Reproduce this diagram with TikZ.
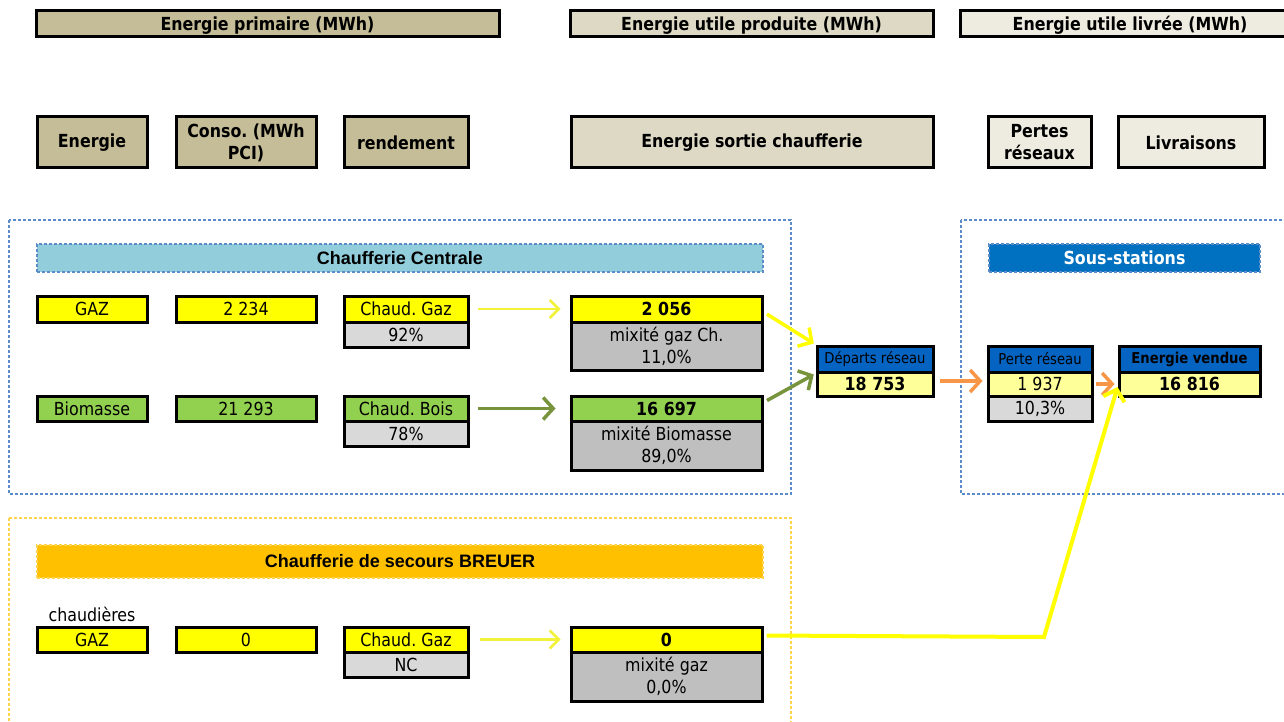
\documentclass[tikz,border=0pt]{standalone}
\usepackage{fontspec}
\setmainfont{DejaVu Sans}[FakeStretch=0.88]
\newfontfamily\arialfont{Liberation Sans}
\usepackage{tikz}
\usetikzlibrary{positioning,arrows.meta}
\definecolor{tanA}{HTML}{C4BD97}
\definecolor{tanB}{HTML}{DDD9C4}
\definecolor{tanC}{HTML}{EEECE1}
\definecolor{gaz}{HTML}{FFFF00}
\definecolor{bio}{HTML}{92D050}
\definecolor{greyL}{HTML}{D9D9D9}
\definecolor{greyD}{HTML}{BFBFBF}
\definecolor{paleY}{HTML}{FFFF99}
\definecolor{lightY}{HTML}{F2F23A}
\definecolor{blueH}{HTML}{0563C1}
\definecolor{blueS}{HTML}{0070C0}
\definecolor{aqua}{HTML}{92CDDC}
\definecolor{amber}{HTML}{FFC000}
\definecolor{olive}{HTML}{77933C}
\definecolor{orangeA}{HTML}{F79646}
\definecolor{dotblue}{HTML}{5B8BC9}
\newcommand{\bigtxt}{\fontsize{18}{22}\selectfont}
\newcommand{\smalltxt}{\fontsize{15}{18}\selectfont}
\frenchspacing

\begin{document}
\begin{tikzpicture}[x=1pt, y=-1pt,
  every node/.style={font=\bigtxt, inner sep=0pt, align=center},
  cell/.style={draw=black, line width=3pt},
  head/.style={cell, font=\bigtxt\bfseries},
  bar/.style={draw=dotblue, line width=1.5pt, dash pattern=on 3pt off 2pt, font=\arialfont\bigtxt\bfseries, minimum height=28pt},
  frame/.style={draw=dotblue, line width=2pt, dash pattern=on 3pt off 2pt},
  flow/.style={line width=3.5pt, -{Straight Barb[length=10pt,width=22pt]}},
  thin flow/.style={draw=lightY, line width=2.5pt, -{Straight Barb[length=9pt,width=18pt]}}
]
\useasboundingbox (0,0) rectangle (1284,722);

% frames
\draw[frame] (9,220) rectangle (791,494);
\draw[frame] (961,220) rectangle (1300,494);
\draw[frame, draw=amber!70, line width=1.5pt] (9,518) rectangle (791,740);

% column headers
\node[head, fill=tanA, minimum width=463pt, minimum height=26pt, text height=17pt, text depth=3pt] (hPrim) at (267.5,24) {Energie primaire (MWh)};
\node[head, fill=tanB, minimum width=363pt, minimum height=26pt, text height=17pt, text depth=3pt] (hProd) at (751.5,24) {Energie utile produite (MWh)};
\node[head, fill=tanC, minimum width=340pt, minimum height=26pt, text height=17pt, text depth=3pt] (hLivr) at (1130,24) {Energie utile livr\'ee (MWh)};

\node[head, fill=tanA, minimum width=110pt, minimum height=51pt] (cEn) at (92,142.5) {Energie};
\node[head, fill=tanA, minimum width=140pt, minimum height=51pt] (cConso) at (246,142.5) {Conso. (MWh\\PCI)};
\node[head, fill=tanA, minimum width=124pt, minimum height=51pt] (cRend) at (406,142.5) {rendement};
\node[head, fill=tanB, minimum width=362pt, minimum height=51pt] (cSortie) at (752,142.5) {Energie sortie chaufferie};
\node[head, fill=tanC, minimum width=103pt, minimum height=51pt] (cPertes) at (1039.5,142.5) {Pertes\\r\'eseaux};
\node[head, fill=tanC, minimum width=146pt, minimum height=51pt] (cLivr) at (1191,142.5) {Livraisons};

% Chaufferie Centrale
\node[bar, fill=aqua, minimum width=726pt] (tCentrale) at (400,258) {Chaufferie Centrale};

\node[cell, fill=gaz, minimum width=110pt, minimum height=26pt] (gazE) at (92,309) {GAZ};
\node[cell, fill=gaz, minimum width=140pt, minimum height=26pt] (gazC) at (246,309) {2 234};
\node[cell, fill=gaz, minimum width=124pt, minimum height=26pt] (gazR) at (406,309) {Chaud. Gaz};
\node[cell, fill=greyL, minimum width=124pt, minimum height=25pt] (gazRp) at (406,334.5) {92\%};
\node[cell, fill=greyD, minimum width=191pt, minimum height=48pt] (gazM) at (666.5,346) {mixit\'e gaz Ch.\\11,0\%};
\node[cell, fill=gaz, minimum width=191pt, minimum height=26pt, font=\bigtxt\bfseries] (gazS) at (666.5,309) {2 056};

\node[cell, fill=bio, minimum width=110pt, minimum height=25pt] (bioE) at (92,408.5) {Biomasse};
\node[cell, fill=bio, minimum width=140pt, minimum height=25pt] (bioC) at (246,408.5) {21 293};
\node[cell, fill=bio, minimum width=124pt, minimum height=25pt] (bioR) at (406,408.5) {Chaud. Bois};
\node[cell, fill=greyL, minimum width=124pt, minimum height=25pt] (bioRp) at (406,433.5) {78\%};
\node[cell, fill=greyD, minimum width=191pt, minimum height=49pt] (bioM) at (666.5,445.5) {mixit\'e Biomasse\\89,0\%};
\node[cell, fill=bio, minimum width=191pt, minimum height=25pt, font=\bigtxt\bfseries] (bioS) at (666.5,408.5) {16 697};

\node[cell, fill=blueH, minimum width=116pt, minimum height=26pt, font=\smalltxt] (depH) at (875,359) {D\'eparts r\'eseau};
\node[cell, fill=paleY, minimum width=116pt, minimum height=24pt, font=\bigtxt\bfseries] (depV) at (875,384) {18 753};

% Sous-stations
\node[bar, fill=blueS, text=white, minimum width=271pt, font=\bigtxt\bfseries] (tSous) at (1124.5,258) {Sous-stations};

\node[cell, fill=blueH, minimum width=104pt, minimum height=26pt, font=\smalltxt] (pertH) at (1040,359) {Perte r\'eseau};
\node[cell, fill=paleY, minimum width=104pt, minimum height=24pt] (pertV) at (1040,384) {1 937};
\node[cell, fill=greyL, minimum width=104pt, minimum height=25pt] (pertP) at (1040,408.5) {10,3\%};
\node[cell, fill=blueH, minimum width=141pt, minimum height=26pt, font=\smalltxt\bfseries] (venH) at (1189.5,359) {Energie vendue};
\node[cell, fill=paleY, minimum width=141pt, minimum height=24pt, font=\bigtxt\bfseries] (venV) at (1189.5,384) {16 816};

% Chaufferie de secours
\node[bar, draw=amber!70, fill=amber, minimum width=726pt, minimum height=33pt] (tBreuer) at (400,561.5) {Chaufferie de secours BREUER};
\node (lChaud) at (92,614) {chaudi\`eres};

\node[cell, fill=gaz, minimum width=110pt, minimum height=25pt] (brE) at (92,639.5) {GAZ};
\node[cell, fill=gaz, minimum width=140pt, minimum height=25pt] (brC) at (246,639.5) {0};
\node[cell, fill=gaz, minimum width=124pt, minimum height=25pt] (brR) at (406,639.5) {Chaud. Gaz};
\node[cell, fill=greyL, minimum width=124pt, minimum height=25pt] (brRp) at (406,664.5) {NC};
\node[cell, fill=greyD, minimum width=191pt, minimum height=49pt] (brM) at (666.5,676.5) {mixit\'e gaz\\0,0\%};
\node[cell, fill=gaz, minimum width=191pt, minimum height=25pt, font=\bigtxt\bfseries] (brS) at (666.5,639.5) {0};
\coordinate (bend) at (1044,637);

% flows
\draw[thin flow, shorten <=8pt, shorten >=9pt] (gazR) -- (gazS);
\draw[thin flow, shorten <=10pt, shorten >=9pt] (brR) -- (brS);
\draw[flow, draw=olive, shorten <=8pt, shorten >=14pt] (bioR) -- (bioS);
\draw[flow, draw=gaz, shorten <=4pt, shorten >=2pt] ([yshift=-3pt]gazS.east) -- (depH.north west);
\draw[flow, draw=olive, shorten <=4pt, shorten >=2pt] ([yshift=6pt]bioS.east) -- (depH.south west);
\draw[flow, draw=orangeA, shorten <=5pt, shorten >=4pt] ([yshift=3pt]depV.east) -- ([yshift=3pt]pertV.west);
\draw[flow, draw=orangeA, shorten <=2pt, shorten >=3pt] (pertV.east) -- (venV.west);
\draw[flow, draw=gaz, line width=4pt, shorten <=3pt] ([yshift=4pt]brS.east) -- (bend) -- ([yshift=-3pt]venV.west);
\end{tikzpicture}
\end{document}
